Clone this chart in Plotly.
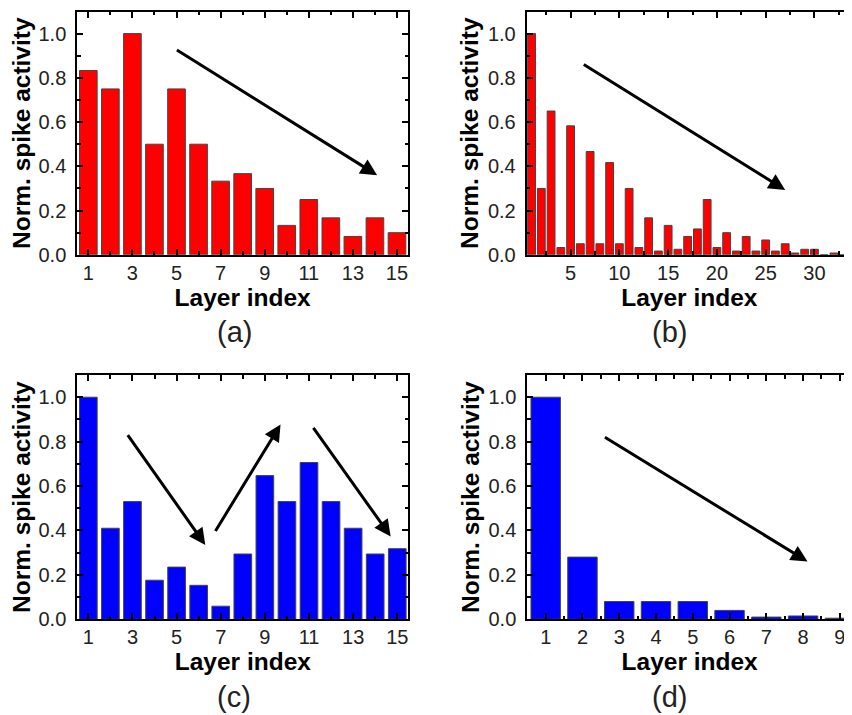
import plotly.graph_objects as go

# page body has an 8px default margin: the figure is sized/positioned to compensate
OFF = 8
W, H = 852 - OFF, 715 - OFF

# ---------------- data ----------------
layers_a = list(range(1, 16))
activity_a = [0.833, 0.75, 1.0, 0.5, 0.75, 0.5, 0.333, 0.367, 0.3, 0.133, 0.25, 0.167, 0.083, 0.167, 0.1]

layers_b = list(range(1, 35))
activity_b = [1.0, 0.3, 0.65, 0.033, 0.583, 0.05, 0.467, 0.05, 0.417, 0.05,
              0.3, 0.033, 0.167, 0.017, 0.133, 0.025, 0.083, 0.117, 0.25, 0.033,
              0.1, 0.017, 0.083, 0.017, 0.067, 0.017, 0.05, 0.008, 0.025, 0.025,
              0.0, 0.008, 0.0, 0.008]

layers_c = list(range(1, 16))
activity_c = [1.0, 0.41, 0.53, 0.176, 0.235, 0.153, 0.059, 0.294, 0.647, 0.53, 0.706, 0.53, 0.41, 0.294, 0.318]

layers_d = list(range(1, 10))
activity_d = [1.0, 0.28, 0.08, 0.08, 0.08, 0.04, 0.01, 0.015, 0.005]

panel_labels = ["(a)", "(b)", "(c)", "(d)"]
x_title = "Layer index"
y_title = "Norm. spike activity"

# trend arrows (data coordinates): (x_start, y_start, x_end, y_end)
arrows_a = [(4.95, 0.93, 14.1, 0.36)]
arrows_b = [(6.2, 0.865, 27.0, 0.293)]
arrows_c = [(2.74, 0.836, 6.3, 0.335), (6.72, 0.391, 9.71, 0.877), (11.15, 0.869, 14.7, 0.373)]
arrows_d = [(2.57, 0.824, 8.12, 0.26)]

RED = "#FF0000"
BLUE = "#0000FF"


def px_x(p):
    return (p - OFF) / W


def px_y(p):
    return 1 - (p - OFF) / H


panels = [
    dict(x=layers_a, y=activity_a, color=RED, xdom=(77.3, 408.0), ydom=(11.5, 254.8),
         xrange=[0.5, 15.5], dtick=2, tick0=1, minor=1, mirror_y=True, arrows=arrows_a,
         label_pos=(234, 332)),
    dict(x=layers_b, y=activity_b, color=RED, xdom=(526.7, 852), ydom=(11.5, 254.8),
         xrange=[0.5, 33.85], dtick=5, tick0=0, minor=2.5, mirror_y=False, arrows=arrows_b,
         label_pos=(669, 332)),
    dict(x=layers_c, y=activity_c, color=BLUE, xdom=(77.3, 408.3), ydom=(375, 619.3),
         xrange=[0.5, 15.5], dtick=2, tick0=1, minor=1, mirror_y=True, arrows=arrows_c,
         label_pos=(234, 697)),
    dict(x=layers_d, y=activity_d, color=BLUE, xdom=(527.3, 852), ydom=(375, 619.3),
         xrange=[0.5, 9.33], dtick=1, tick0=0, minor=0.5, mirror_y=False, arrows=arrows_d,
         label_pos=(669, 697)),
]

fig = go.Figure()
annotations = []
FONT = "Liberation Sans, Arial, sans-serif"
tick_font = dict(family=FONT, size=20, color="#222222")
title_font = dict(family=FONT, size=24.5, color="#000000")

for i, p in enumerate(panels):
    n = "" if i == 0 else str(i + 1)
    xa, ya = "x" + n, "y" + n
    fig.add_trace(go.Bar(
        x=p["x"], y=p["y"], xaxis=xa, yaxis=ya,
        marker=dict(color=p["color"], line=dict(color="#444444", width=1)),
        width=0.8, showlegend=False,
    ))
    xaxis = dict(
        domain=[px_x(p["xdom"][0]), min(1.0, px_x(p["xdom"][1]))],
        anchor=ya, range=p["xrange"],
        showline=True, linecolor="black", linewidth=2, mirror="allticks",
        ticks="inside", ticklen=6, tickwidth=1.5, tickcolor="black",
        tickmode="linear", tick0=p["tick0"], dtick=p["dtick"],
        minor=dict(ticks="inside", ticklen=3.5, tickwidth=1.5, dtick=p["minor"], tickcolor="black",
                   tick0=p["tick0"]),
        showgrid=False, zeroline=False, tickfont=tick_font,
        title=dict(text="<b>%s</b>" % x_title, font=title_font, standoff=2),
        automargin=False, ticklabelstandoff=-1,
    )
    yaxis = dict(
        domain=[px_y(p["ydom"][1]), px_y(p["ydom"][0])],
        anchor=xa, range=[0, 1.1],
        showline=True, linecolor="black", linewidth=2,
        mirror="allticks" if p["mirror_y"] else False,
        ticks="inside", ticklen=6, tickwidth=1.5, tickcolor="black",
        tickmode="linear", tick0=0, dtick=0.2, tickformat=".1f",
        minor=dict(ticks="inside", ticklen=3.5, tickwidth=1.5, dtick=0.1, tickcolor="black"),
        showgrid=False, zeroline=False, tickfont=tick_font,
        title=dict(text="<b>%s</b>" % y_title, font=title_font, standoff=2),
        automargin=False, ticklabelstandoff=5,
    )
    fig.layout["xaxis" + n] = xaxis
    fig.layout["yaxis" + n] = yaxis
    for (x0, y0, x1, y1) in p["arrows"]:
        annotations.append(dict(
            x=x1, y=y1, ax=x0, ay=y0, xref=xa, yref=ya, axref=xa, ayref=ya,
            showarrow=True, arrowhead=2, arrowsize=1.1, arrowwidth=3, arrowcolor="black", text="",
        ))
    lx, ly = p["label_pos"]
    annotations.append(dict(
        x=px_x(lx), y=px_y(ly), xref="paper", yref="paper", text=panel_labels[i],
        showarrow=False, xanchor="center", yanchor="middle",
        font=dict(family=FONT, size=29, color="#222222"),
    ))

fig.update_layout(
    width=W, height=H, margin=dict(l=0, r=0, t=0, b=0),
    paper_bgcolor="white", plot_bgcolor="white",
    bargap=0.2, annotations=annotations,
)

fig.write_html("out.html")
